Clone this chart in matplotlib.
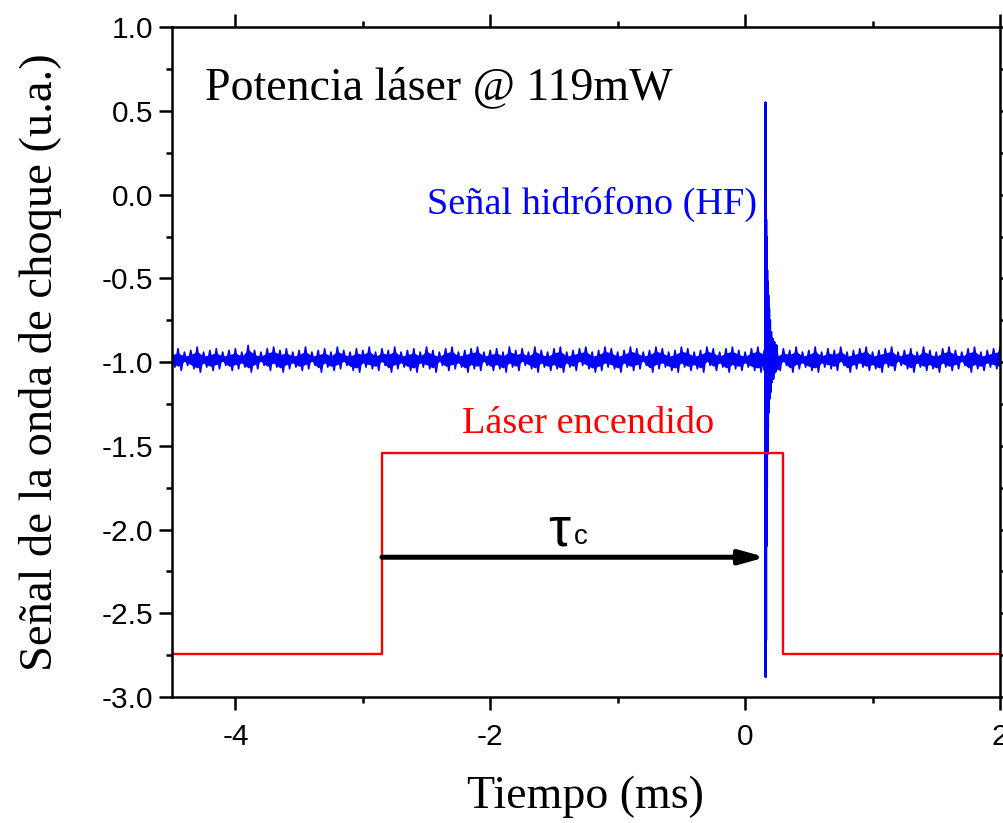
import numpy as np
import matplotlib
matplotlib.use('Agg')
import matplotlib.pyplot as plt
from matplotlib.ticker import MultipleLocator, FormatStrFormatter

# ---- data ------------------------------------------------------------------
# hydrophone baseline noise envelope, sampled every 0.05 ms from -4.5 to 2.0
hf_t0, hf_dt = -4.5, 0.05
hf_upper = [
    -0.93, -0.92, -0.94, -0.93, -0.91, -0.94, -0.93, -0.92, -0.94, -0.93,
    -0.92, -0.94, -0.90, -0.93, -0.94, -0.92, -0.91, -0.93, -0.92, -0.94,
    -0.93, -0.91, -0.94, -0.93, -0.92, -0.94, -0.91, -0.93, -0.94, -0.92,
    -0.93, -0.91, -0.94, -0.92, -0.93, -0.91, -0.94, -0.93, -0.92, -0.94,
    -0.91, -0.93, -0.94, -0.92, -0.91, -0.94, -0.93, -0.92, -0.91, -0.94,
    -0.93, -0.92, -0.94, -0.91, -0.93, -0.92, -0.94, -0.91, -0.93, -0.94,
    -0.92, -0.91, -0.94, -0.93, -0.92, -0.91, -0.94, -0.93, -0.91, -0.92,
    -0.94, -0.93, -0.91, -0.92, -0.94, -0.93, -0.91, -0.92, -0.94, -0.93,
    -0.91, -0.92, -0.94, -0.93, -0.91, -0.92, -0.94, -0.92, -0.91, -0.93,
    -0.94, -0.92, -0.91, -0.93, -0.92, -0.94, -0.92, -0.93, -0.91, -0.94,
    -0.93, -0.91, -0.94, -0.92, -0.93, -0.91, -0.94, -0.93, -0.92, -0.91,
    -0.94, -0.93, -0.92, -0.91, -0.94, -0.93, -0.92, -0.94, -0.91, -0.93,
    -0.94, -0.92, -0.91, -0.93, -0.94, -0.92, -0.91, -0.94, -0.93, -0.92,
    -0.91,
]
hf_lower = [
    -1.03, -1.05, -1.02, -1.04, -1.06, -1.03, -1.05, -1.04, -1.02, -1.05,
    -1.04, -1.03, -1.06, -1.04, -1.02, -1.05, -1.03, -1.06, -1.04, -1.03,
    -1.05, -1.04, -1.02, -1.06, -1.03, -1.05, -1.04, -1.02, -1.05, -1.06,
    -1.03, -1.04, -1.05, -1.02, -1.06, -1.04, -1.03, -1.05, -1.06, -1.03,
    -1.04, -1.06, -1.02, -1.05, -1.04, -1.03, -1.06, -1.04, -1.05, -1.02,
    -1.05, -1.04, -1.06, -1.03, -1.05, -1.02, -1.04, -1.06, -1.03, -1.05,
    -1.04, -1.06, -1.03, -1.05, -1.02, -1.04, -1.06, -1.05, -1.03, -1.04,
    -1.06, -1.03, -1.05, -1.04, -1.02, -1.06, -1.04, -1.03, -1.05, -1.06,
    -1.03, -1.05, -1.04, -1.06, -1.02, -1.05, -1.03, -1.06, -1.04, -1.05,
    -1.03, -1.05, -1.06, -1.04, -1.03, -1.05, -1.02, -1.06, -1.04, -1.03,
    -1.05, -1.06, -1.03, -1.04, -1.05, -1.02, -1.06, -1.04, -1.03, -1.05,
    -1.04, -1.06, -1.03, -1.05, -1.02, -1.04, -1.06, -1.03, -1.05, -1.04,
    -1.06, -1.03, -1.05, -1.04, -1.02, -1.06, -1.04, -1.05, -1.03, -1.04,
    -1.05,
]

# shock-wave spike and ringing (time in ms, signal in a.u.)
spike_t = [0.150, 0.155, 0.158, 0.160, 0.161, 0.162, 0.163, 0.164, 0.165,
           0.166, 0.167, 0.168, 0.170, 0.172, 0.174, 0.176, 0.178, 0.181,
           0.184, 0.187, 0.190, 0.194, 0.198, 0.203, 0.208, 0.214, 0.220,
           0.228, 0.236, 0.245, 0.255]
spike_v = [-0.98, -1.05, -0.90, 0.55, -2.88, -0.08, -2.66, -0.15, -2.10,
           -0.25, -1.85, -0.35, -1.75, -0.45, -1.55, -0.52, -1.40, -0.60,
           -1.30, -0.68, -1.22, -0.75, -1.18, -0.82, -1.12, -0.86, -1.10,
           -0.88, -1.06, -0.90, -1.04]

# laser gate
laser_on, laser_off = -2.85, 0.30
laser_low, laser_high = -2.74, -1.54
t_start, t_end = -4.5, 2.0

# tau_c arrow
arrow_y = -2.165
arrow_start, arrow_end = -2.85, 0.16

# ---- figure -----------------------------------------------------------------
plt.rcParams['axes.unicode_minus'] = False
serif = ['Liberation Serif', 'DejaVu Serif']
sans = ['Liberation Sans', 'DejaVu Sans']

fig = plt.figure(figsize=(10.04, 8.23), dpi=100)
ax = fig.add_axes([0.171, 0.153, 0.825, 0.814])

# baseline trace: zig-zag between the read upper and lower envelopes
hf_t = hf_t0 + hf_dt * np.arange(len(hf_upper))
trace_t = np.column_stack([hf_t, hf_t + hf_dt / 2]).ravel()
trace_v = np.column_stack([hf_upper, hf_lower]).ravel()
keep = trace_t <= t_end
ax.plot(trace_t[keep], trace_v[keep], color='blue', lw=1.2)
ax.fill_between(hf_t, np.array(hf_lower) + 0.025, np.array(hf_upper) - 0.025,
                color='blue', lw=0)
ax.plot(spike_t, spike_v, color='blue', lw=1.8)

laser_t = [t_start, laser_on, laser_on, laser_off, laser_off, t_end]
laser_v = [laser_low, laser_low, laser_high, laser_high, laser_low, laser_low]
ax.plot(laser_t, laser_v, color='red', lw=1.7)

ax.annotate('', xy=(arrow_end, arrow_y), xytext=(arrow_start, arrow_y),
            arrowprops=dict(arrowstyle='-|>,head_length=1.5,head_width=0.42',
                            color='black', lw=3.6, shrinkA=0, shrinkB=0))
ax.text(-1.46, -2.01, 'τ', fontsize=40, family=sans, ha='center',
        va='center')
ax.text(-1.34, -2.045, 'c', fontsize=20, family=sans, ha='left',
        va='center')

ax.text(-4.24, 0.635, 'Potencia láser @ 119mW', fontsize=33, family=serif,
        va='center', ha='left')
ax.text(0.095, -0.06, 'Señal hidrófono (HF)', fontsize=27.5, family=serif,
        color='blue', va='center', ha='right')
ax.text(-1.23, -1.37, 'Láser encendido', fontsize=27.5, family=serif,
        color='red', va='center', ha='center')

ax.set_xlim(t_start, t_end)
ax.set_ylim(-3.0, 1.0)
ax.xaxis.set_major_locator(MultipleLocator(2))
ax.xaxis.set_minor_locator(MultipleLocator(1))
ax.yaxis.set_major_locator(MultipleLocator(0.5))
ax.yaxis.set_minor_locator(MultipleLocator(0.25))
ax.yaxis.set_major_formatter(FormatStrFormatter('%.1f'))
ax.tick_params(which='both', direction='out', top=True, right=True,
               width=1.8, labelsize=21.5, labeltop=False, labelright=False)
ax.tick_params(which='major', length=9.5)
ax.tick_params(which='minor', length=4.5)
ax.tick_params(axis='x', which='major', pad=9)
ax.tick_params(axis='y', which='major', pad=4)
for lab in ax.get_xticklabels() + ax.get_yticklabels():
    lab.set_family(sans)
for s in ax.spines.values():
    s.set_linewidth(1.8)

ax.set_xlabel('Tiempo (ms)', fontsize=33, family=serif, labelpad=18)
ax.set_ylabel('Señal de la onda de choque (u.a.)', fontsize=33.5,
              family=serif, labelpad=28)

plt.savefig('out.png', dpi=100)
plt.close()
